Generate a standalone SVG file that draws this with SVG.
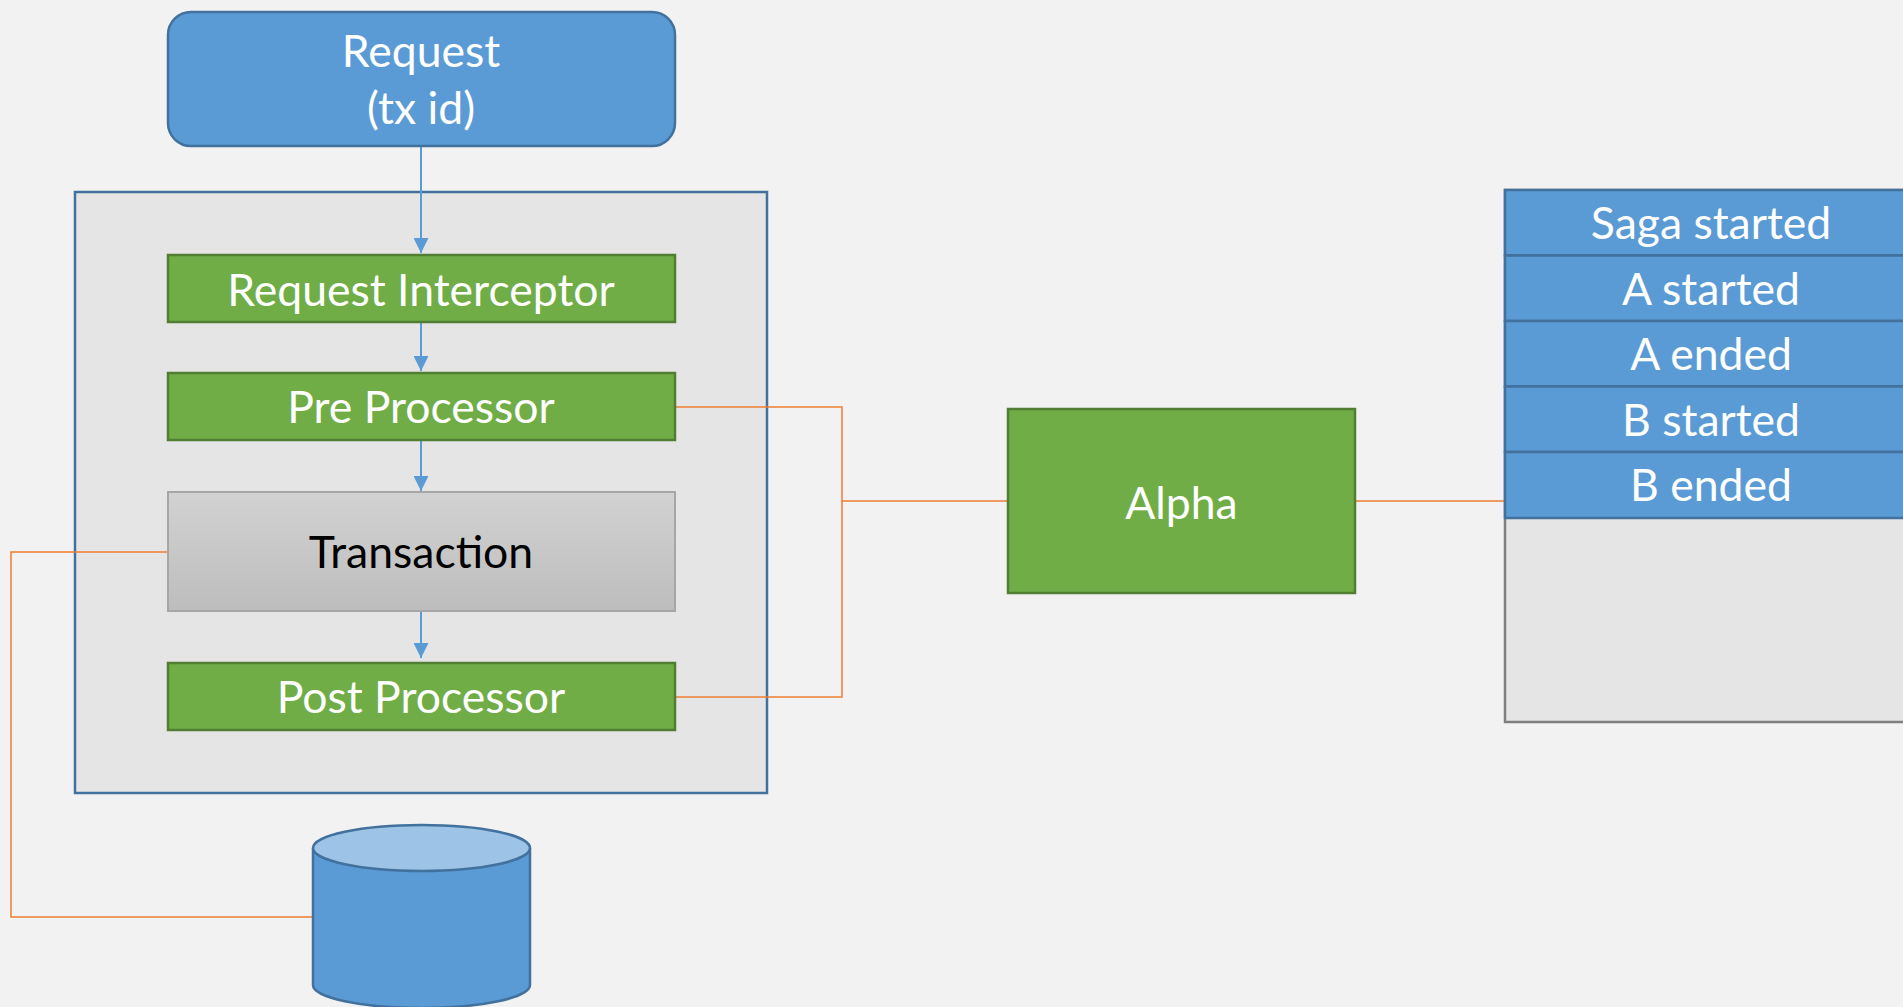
<svg xmlns="http://www.w3.org/2000/svg" width="1903" height="1007" viewBox="0 0 1903 1007">
  <defs>
    <linearGradient id="txGrad" x1="0" y1="0" x2="0" y2="1">
      <stop offset="0" stop-color="#d2d2d2"/>
      <stop offset="1" stop-color="#bdbdbd"/>
    </linearGradient>
    <marker id="arrow" markerUnits="userSpaceOnUse" markerWidth="15" markerHeight="15" viewBox="0 0 15 15" refX="15" refY="7.5" orient="auto">
      <path d="M0,0 L15,7.5 L0,15 Z" fill="#5b9bd5"/>
    </marker>
  </defs>
  <style>
    .lbl { font-family: Lato, "Liberation Sans", sans-serif; font-size: 44.5px; fill: #ffffff; text-anchor: middle; }
    .dark { fill: #000000; }
    .green { fill: #70ad47; stroke: #507e32; stroke-width: 2.5; }
    .blue { fill: #5b9bd5; stroke: #41719c; stroke-width: 2.5; }
    .flow { stroke: #5b9bd5; stroke-width: 2; fill: none; marker-end: url(#arrow); }
    .link { stroke: #ed7d31; stroke-width: 1.5; fill: none; }
  </style>

  <rect x="0" y="0" width="1903" height="1007" fill="#f2f2f2"/>

  <!-- service container -->
  <g id="container">
    <rect x="75" y="192" width="692" height="601" fill="#e5e5e5" stroke="#41719c" stroke-width="2.5"/>
  </g>

  <!-- connectors -->
  <g id="connectors">
    <line class="flow" x1="421" y1="146" x2="421" y2="253"/>
    <line class="flow" x1="421" y1="322" x2="421" y2="371"/>
    <line class="flow" x1="421" y1="440" x2="421" y2="491"/>
    <line class="flow" x1="421" y1="611" x2="421" y2="658"/>
    <polyline class="link" points="1008,501 842,501 842,407 676,407"/>
    <polyline class="link" points="842,501 842,697 676,697"/>
    <line class="link" x1="1355" y1="501" x2="1505" y2="501"/>
    <polyline class="link" points="168,552 11,552 11,917 313,917"/>
  </g>

  <g id="request">
    <rect class="blue" x="168" y="12" width="507" height="134" rx="23"/>
    <text class="lbl" x="421" y="67">Request</text>
    <text class="lbl" x="421" y="124">(tx id)</text>
  </g>

  <g id="request-interceptor">
    <rect class="green" x="168" y="255" width="507" height="67"/>
    <text class="lbl" x="421" y="306">Request Interceptor</text>
  </g>

  <g id="pre-processor">
    <rect class="green" x="168" y="373" width="507" height="67"/>
    <text class="lbl" x="421" y="423">Pre Processor</text>
  </g>

  <g id="transaction">
    <rect x="168" y="492" width="507" height="119" fill="url(#txGrad)" stroke="#a6a6a6" stroke-width="2"/>
    <text class="lbl dark" x="421" y="568">Transaction</text>
  </g>

  <g id="post-processor">
    <rect class="green" x="168" y="663" width="507" height="67"/>
    <text class="lbl" x="421" y="713">Post Processor</text>
  </g>

  <g id="database">
    <path class="blue" d="M313,848 V985 A108.5,23 0 0 0 530,985 V848"/>
    <ellipse cx="421.5" cy="848" rx="108.5" ry="23" fill="#9dc3e6" stroke="#41719c" stroke-width="2.5"/>
  </g>

  <g id="alpha">
    <rect class="green" x="1008" y="409" width="347" height="184"/>
    <text class="lbl" x="1181.5" y="519">Alpha</text>
  </g>

  <g id="saga-log">
    <rect x="1505" y="190" width="412" height="532" fill="#e5e5e5" stroke="#7f7f7f" stroke-width="2.5"/>
    <rect class="blue" x="1505" y="190" width="412" height="65.5"/>
    <rect class="blue" x="1505" y="255.5" width="412" height="65.5"/>
    <rect class="blue" x="1505" y="321" width="412" height="65.5"/>
    <rect class="blue" x="1505" y="386.5" width="412" height="65.5"/>
    <rect class="blue" x="1505" y="452" width="412" height="66"/>
    <text class="lbl" x="1711" y="239">Saga started</text>
    <text class="lbl" x="1711" y="305">A started</text>
    <text class="lbl" x="1711" y="370">A ended</text>
    <text class="lbl" x="1711" y="436">B started</text>
    <text class="lbl" x="1711" y="501">B ended</text>
  </g>
</svg>
